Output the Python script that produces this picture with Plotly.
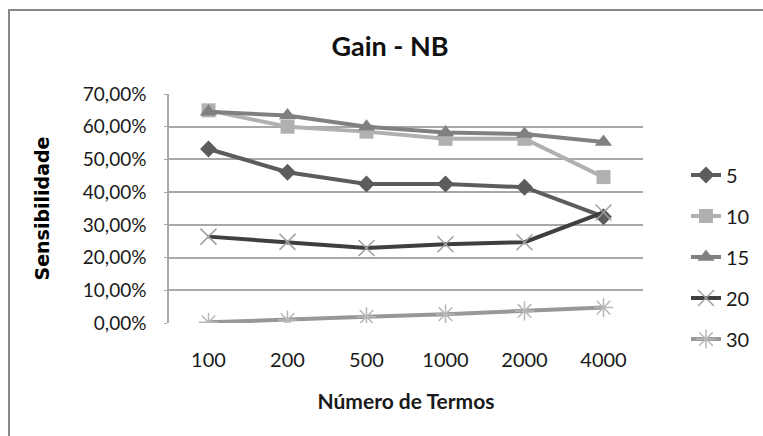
import plotly.graph_objects as go

# Categories (number of terms) and sensitivity per series
termos = ["100", "200", "500", "1000", "2000", "4000"]
s5 = [0.532, 0.461, 0.425, 0.425, 0.415, 0.325]
s10 = [0.650, 0.600, 0.585, 0.563, 0.563, 0.446]
s15 = [0.646, 0.634, 0.600, 0.582, 0.578, 0.553]
s20 = [0.264, 0.248, 0.229, 0.241, 0.247, 0.338]
s30 = [0.002, 0.009, 0.019, 0.027, 0.037, 0.047]
y_ticks = [0, 0.1, 0.2, 0.3, 0.4, 0.5, 0.6, 0.7]

W, H = 763, 436
L, R, T, B = 169, 120, 94, 113
PW, PH = W - L - R, H - T - B


def px_x(p):
    return (p - L) / PW


def px_y(p):
    return (H - B - p) / PH


series = [
    ("5", s5, dict(color="#5c5c5c", width=4), dict(symbol="diamond", size=13, color="#5c5c5c")),
    ("10", s10, dict(color="#b0b0b0", width=4), dict(symbol="square", size=14, color="#b0b0b0")),
    ("15", s15, dict(color="#808080", width=4), dict(symbol="triangle-up", size=15, color="#808080")),
    ("20", s20, dict(color="#3f3f3f", width=4),
     dict(symbol="x-thin-open", size=16, color="#a0a0a0", line=dict(color="#a0a0a0", width=1.5))),
    ("30", s30, dict(color="#989898", width=4),
     dict(symbol="asterisk-open", size=16, color="#b8b8b8", line=dict(color="#b8b8b8", width=1.5))),
]

fig = go.Figure()
for name, vals, line, marker in series:
    fig.add_trace(go.Scatter(
        x=termos, y=vals, name=name, mode="lines+markers",
        line=line, marker=marker, legendgroup=name,
    ))

calibri_like = "Lato, 'Open Sans', sans-serif"

fig.update_layout(
    width=W, height=H,
    margin=dict(l=L, r=R, t=T, b=B, autoexpand=False),
    paper_bgcolor="white", plot_bgcolor="white",
    separators=", ",
    font=dict(family=calibri_like, size=19, color="#1a1a1a"),
    title=dict(text="<b>Gain - NB</b>", x=390 / W, xanchor="center",
               y=1 - 47 / H, yanchor="middle", yref="container",
               font=dict(size=27, family=calibri_like, color="#111111")),
    xaxis=dict(
        type="category", range=[-0.5, 5.5], showgrid=False,
        showline=False, ticks="", ticklabelstandoff=23,
        tickfont=dict(size=20),
        title=dict(text="<b>Número de Termos</b>", standoff=24,
                   font=dict(size=21, family=calibri_like)),
    ),
    yaxis=dict(
        range=[0, 0.7], tickvals=y_ticks, tickformat=".2%",
        showgrid=True, gridcolor="#a8a8a8", gridwidth=1.5,
        showline=True, linecolor="#a8a8a8", linewidth=1.5,
        ticks="outside", ticklen=3, tickcolor="#a8a8a8",
        ticklabelstandoff=14, tickfont=dict(size=19),
        zeroline=False,
        title=dict(text="<b>Sensibilidade</b>", standoff=28,
                   font=dict(family="'DejaVu Sans', Verdana, sans-serif", size=19, color="#000000")),
    ),
    legend=dict(
        x=px_x(686), xanchor="left", y=px_y(257), yanchor="middle",
        font=dict(size=20), tracegroupgap=12, bgcolor="rgba(0,0,0,0)",
        itemwidth=30,
    ),
    shapes=[dict(
        type="rect", xref="paper", yref="paper",
        x0=px_x(9), x1=px_x(W + 20), y0=px_y(H + 20), y1=px_y(10),
        line=dict(color="#878787", width=2), layer="below",
    )],
)

fig.write_html("out.html")
